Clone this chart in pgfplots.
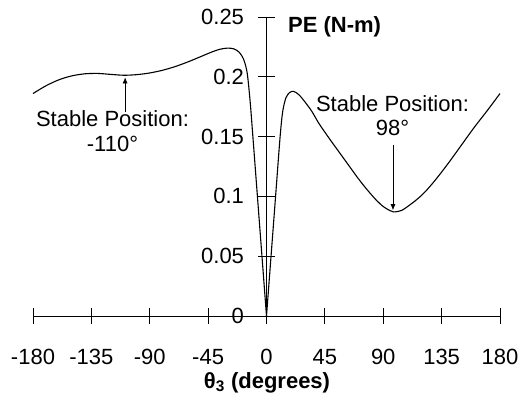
\documentclass[border=0pt]{standalone}
\usepackage{fontspec}
\setmainfont{Liberation Sans}
\usepackage{pgfplots}
\pgfplotsset{compat=1.18}
\usetikzlibrary{arrows.meta}
\newcommand{\bigfont}{\fontsize{22bp}{25bp}\selectfont}
\begin{document}
\begin{tikzpicture}[font=\bigfont]
\begin{axis}[
 at={(33bp,80bp)}, anchor=south west,
 scale only axis, width=467bp, height=299bp,
 xmin=-180, xmax=180, ymin=0, ymax=0.25,
 axis lines=middle,
 axis line style={-, line width=0.8bp, black},
 xtick={-180,-135,-90,-45,45,90,135,180},
 xticklabels={-180,-135,-90,-45,45,90,135,180},
 ytick={0.05,0.1,0.15,0.2,0.25},
 yticklabels={0.05,0.1,0.15,0.2,0.25},
 extra x ticks={0}, extra x tick labels={0},
 extra y ticks={0}, extra y tick labels={0},
 tick align=center, major tick length=16bp,
 tick style={black, line width=0.8bp},
 xticklabel style={anchor=north, yshift=-22bp},
 yticklabel style={anchor=east, xshift=-11bp},
 tick label style={font=\bigfont},
 clip=false,
]
\addplot[black, line width=1.1bp, smooth] coordinates {
(-180,0.186) (-170,0.1925) (-160,0.1975) (-150,0.2008) (-140,0.2025)
(-130,0.2028) (-120,0.2020) (-110,0.2013) (-100,0.2018) (-90,0.2032)
(-80,0.2055) (-70,0.2087) (-60,0.2127) (-50,0.2172) (-42,0.2208)
(-36,0.2230) (-30,0.2240) (-25,0.2233) (-21,0.2205) (-18,0.2155)
(-16,0.2090) (-14.5,0.2000) (-12.5,0.1780) (-10.5,0.1500) (-7,0.1000)
(-3.5,0.0500) (0,0)
};
\addplot[black, line width=1.1bp, smooth] coordinates {
(0,0) (3.5,0.05) (7,0.1) (10.5,0.15) (12.5,0.171) (15,0.1825)
(18,0.1870) (21,0.1878) (25,0.1850) (30,0.1785) (35,0.1710)
(40,0.1617) (45,0.1537) (50,0.1460) (55,0.1385) (60,0.1310)
(65,0.1235) (70,0.1160) (75,0.1090) (80,0.1025) (85,0.0965)
(90,0.0915) (95,0.0882) (98,0.0870) (104,0.0882) (110,0.0925)
(116,0.0975) (122,0.1035) (130,0.1135) (140,0.1275) (150,0.1425)
(160,0.1575) (170,0.1715) (180,0.1860)
};
\draw[-{Latex[length=6bp,width=5bp]}, line width=0.6bp] (axis cs:-109,0.1705) -- (axis cs:-109,0.1995);
\draw[-{Latex[length=6bp,width=5bp]}, line width=0.6bp] (axis cs:97.5,0.143) -- (axis cs:97.5,0.0885);
\end{axis}
\node[anchor=base, inner sep=0] at (112.5bp,269bp) {Stable Position:};
\node[anchor=base, inner sep=0] at (112.5bp,244bp) {-110°};
\node[anchor=base, inner sep=0] at (392.5bp,284.6bp) {Stable Position:};
\node[anchor=base, inner sep=0] at (392.5bp,260bp) {98°};
\node[anchor=base west, inner sep=0] at (288bp,363bp) {\bfseries PE (N-m)};
\node[anchor=base, inner sep=0] at (267bp,8bp) {\bfseries θ\textsubscript{3} (degrees)};
\pgfresetboundingbox
\path[use as bounding box] (0,0) rectangle (521bp,396bp);
\end{tikzpicture}
\end{document}
